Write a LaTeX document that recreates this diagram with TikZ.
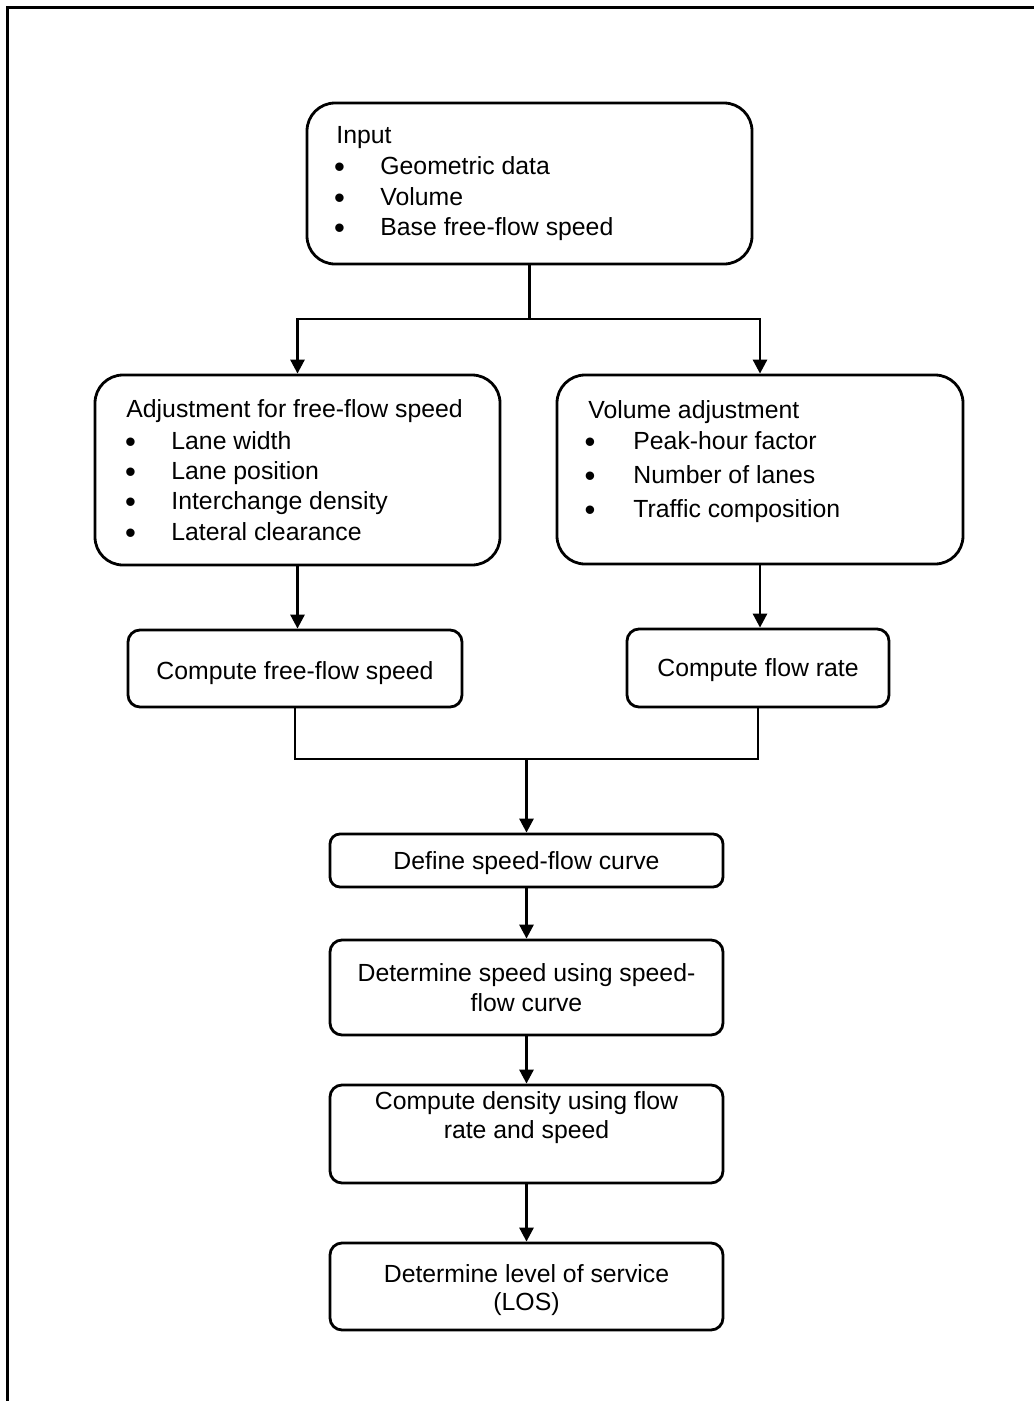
\documentclass[tikz,border=0pt]{standalone}
\usepackage{fontspec}
\setmainfont{Liberation Sans}
\usetikzlibrary{arrows.meta}
\begin{document}
\begin{tikzpicture}[x=1pt,y=-1pt,
  line width=2.8pt,
  every node/.style={font=\fontsize{24.8}{31}\selectfont},
  bigbox/.style={draw, rounded corners=28pt, inner sep=0pt, minimum width=#1},
  smallbox/.style={draw, rounded corners=12pt, inner sep=0pt, minimum width=#1},
  txt/.style={inner sep=0pt, anchor=base west},
  ctxt/.style={inner sep=0pt, anchor=base},
  bul/.style={inner sep=0pt, anchor=base, yshift=-3pt, font=\fontsize{31}{31}\selectfont},
  flow/.style={-{Triangle[length=14pt,width=14pt]}}]
\useasboundingbox (0,0) rectangle (1034,1401);

% outer frame (top and left edges)
\coordinate (fA) at (7.5,1401);
\coordinate (fB) at (7.5,7.5);
\coordinate (fC) at (1034,7.5);
\draw[line width=3pt] (fA) -- (fB) -- (fC);

% boxes
\node[bigbox=445pt, minimum height=161pt] (input) at (529.5,183.5) {};
\node[bigbox=405pt, minimum height=190pt] (adj) at (297.5,470) {};
\node[bigbox=406pt, minimum height=189pt] (vol) at (760,469.5) {};
\node[smallbox=334pt, minimum height=77pt] (cffs) at (295,668.5) {};
\node[smallbox=262pt, minimum height=78pt] (cfr) at (758,668) {};
\node[smallbox=393pt, minimum height=53pt, rounded corners=10pt] (define) at (526.5,860.5) {};
\node[smallbox=393pt, minimum height=95pt] (dspeed) at (526.5,987.5) {};
\node[smallbox=393pt, minimum height=98pt] (density) at (526.5,1134) {};
\node[smallbox=393pt, minimum height=87pt] (los) at (526.5,1286.5) {};

% input box text
\node[txt] (inH) at (335,143) {Input};
\node[bul] (inB1) at (339.5,174) {\textbullet};
\node[bul] (inB2) at (339.5,205) {\textbullet};
\node[bul] (inB3) at (339.5,235) {\textbullet};
\node[txt] (inT1) at (379,174) {Geometric data};
\node[txt] (inT2) at (379,205) {Volume};
\node[txt] (inT3) at (379,235) {Base free-flow speed};

% free-flow speed adjustment text
\node[txt] (adjH) at (125,417) {Adjustment for free-flow speed};
\node[bul] (adjB1) at (130.5,449) {\textbullet};
\node[bul] (adjB2) at (130.5,479) {\textbullet};
\node[bul] (adjB3) at (130.5,509) {\textbullet};
\node[bul] (adjB4) at (130.5,540) {\textbullet};
\node[txt] (adjT1) at (170,449) {Lane width};
\node[txt] (adjT2) at (170,479) {Lane position};
\node[txt] (adjT3) at (170,509) {Interchange density};
\node[txt] (adjT4) at (170,540) {Lateral clearance};

% volume adjustment text
\node[txt] (volH) at (587,418) {Volume adjustment};
\node[bul] (volB1) at (590,449) {\textbullet};
\node[bul] (volB2) at (590,483) {\textbullet};
\node[bul] (volB3) at (590,517) {\textbullet};
\node[txt] (volT1) at (632,449) {Peak-hour factor};
\node[txt] (volT2) at (632,483) {Number of lanes};
\node[txt] (volT3) at (632,517) {Traffic composition};

% single-step box texts
\node[ctxt] (cffsT) at (295,679) {Compute free-flow speed};
\node[ctxt] (cfrT) at (758,676) {Compute flow rate};
\node[ctxt] (defineT) at (526.5,869) {Define speed-flow curve};
\node[ctxt] (dspeedT1) at (526.5,981) {Determine speed using speed-};
\node[ctxt] (dspeedT2) at (526.5,1011) {flow curve};
\node[ctxt] (densityT1) at (526.5,1109) {Compute density using flow};
\node[ctxt] (densityT2) at (526.5,1138) {rate and speed};
\node[ctxt] (losT1) at (526.5,1282) {Determine level of service};
\node[ctxt] (losT2) at (526.5,1310) {(LOS)};

% connectors
\coordinate (fork) at (529.5,319);
\draw (input.south) -- (fork);
\draw[flow] (fork) -| (adj.north);
\draw[flow] (fork) -| (vol.north);
\draw[flow] (adj.south) -- (adj.south |- cffs.north);
\draw[flow] (vol.south) -- (vol.south |- cfr.north);
\coordinate (merge) at (526.5,759);
\draw (cffs.south) |- (merge) -| (cfr.south);
\draw[flow] (merge) -- (define.north);
\draw[flow] (define.south) -- (dspeed.north);
\draw[flow] (dspeed.south) -- (density.north);
\draw[flow] (density.south) -- (los.north);
\end{tikzpicture}
\end{document}
